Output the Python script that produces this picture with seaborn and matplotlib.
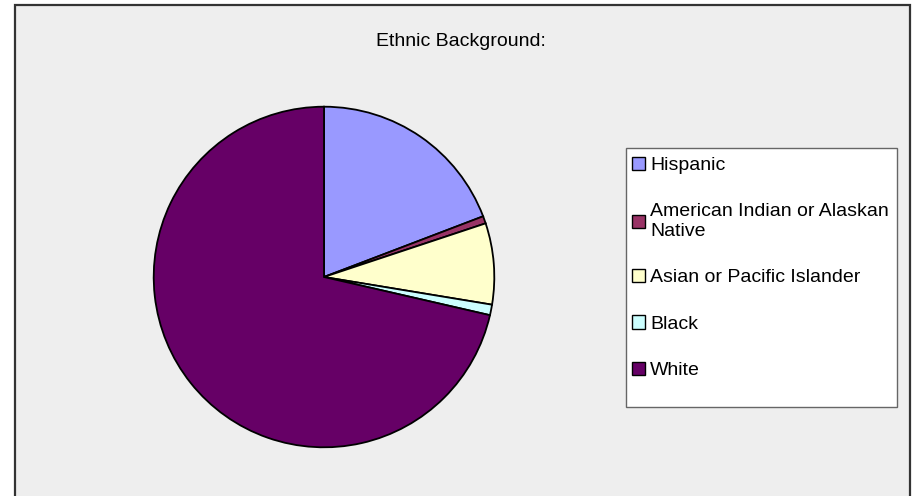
import numpy as np
import matplotlib.pyplot as plt
import matplotlib.patches as mpatches
import seaborn as sns

# data (percent shares)
groups = ["Hispanic", "American Indian or Alaskan\nNative", "Asian or Pacific Islander", "Black", "White"]
shares = [19.2, 0.7, 7.7, 1.0, 71.4]
colors = ["#9999FF", "#993366", "#FFFFCC", "#CCFFFF", "#660066"]

sns.set_style("white")
plt.rcParams["font.family"] = ["Liberation Sans", "DejaVu Sans"]

W, H = 921, 496
fig = plt.figure(figsize=(W / 100, H / 100), dpi=100)
fig.patch.set_facecolor("white")

# outer chart area
fig.patches.append(mpatches.Rectangle((15 / W, -0.05), 895 / W, 1 - 5 / H + 0.05,
                                      transform=fig.transFigure, facecolor="#EEEEEE",
                                      edgecolor="#333333", linewidth=1.6, zorder=-2))
# legend box
fig.patches.append(mpatches.Rectangle((626 / W, 1 - 407 / H), 271 / W, 259 / H,
                                      transform=fig.transFigure, facecolor="white",
                                      edgecolor="#666666", linewidth=1.0, zorder=-1))

cx, cy, r = 324, 277, 172
ax = fig.add_axes([(cx - r) / W, (H - cy - r) / H, 2 * r / W, 2 * r / H])
ax.set_zorder(2)
ax.set_facecolor("none")
wedges, _ = ax.pie(shares, colors=colors, startangle=90, counterclock=False,
                   wedgeprops=dict(edgecolor="black", linewidth=1.3))
ax.set_xlim(-1.01, 1.01)
ax.set_ylim(-1.01, 1.01)
ax.axis("off")

fig.text(461 / W, 1 - 41 / H, "Ethnic Background:", ha="center", va="center",
         fontsize=14, color="black")

leg = fig.legend(wedges, groups, loc="upper left", bbox_to_anchor=(632 / W, 1 - 157 / H),
                 frameon=False, fontsize=14, handlelength=0.67, handleheight=0.67,
                 handletextpad=0.26, labelspacing=1.49, borderaxespad=0, borderpad=0)
leg.set_zorder(3)
for h in leg.legend_handles:
    h.set_linewidth(1.0)
for t in leg.get_texts():
    t.set_color("black")

fig.savefig("out.png", dpi=100)
